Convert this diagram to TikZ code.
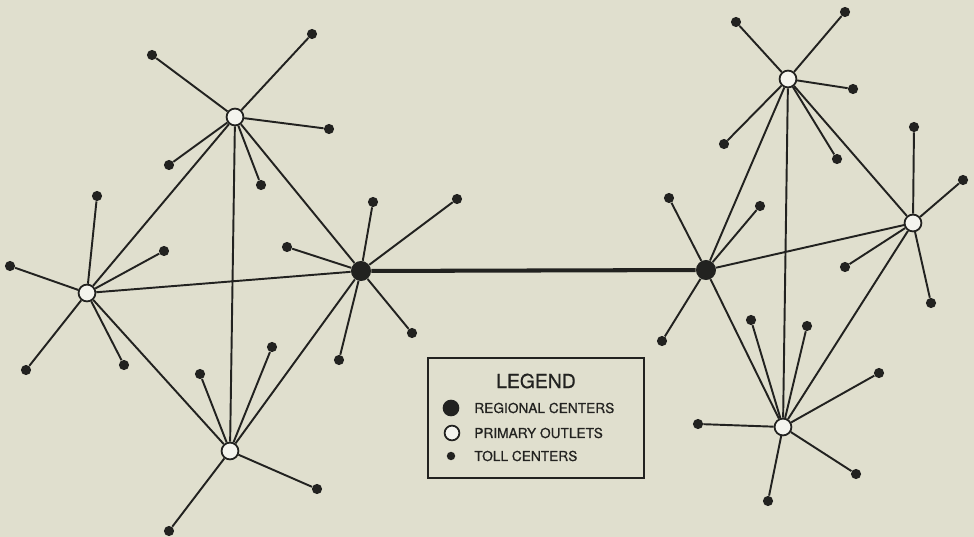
\documentclass[tikz,border=0pt]{standalone}
\usepackage{fontspec}
\setsansfont{TeX Gyre Heros}
\newfontfamily\legfont[FakeBold=0.7]{TeX Gyre Heros}
\usetikzlibrary{positioning}
\definecolor{paper}{RGB}{224,223,206}
\definecolor{ink}{RGB}{34,34,32}

\tikzset{
    toll/.style={circle, fill=ink, inner sep=0pt, minimum size=5.8pt},
    primary/.style={circle, draw=ink, fill=white!65!paper, line width=1pt, inner sep=0pt, minimum size=9.6pt},
    regional/.style={circle, fill=ink, inner sep=0pt, minimum size=11.4pt},
    spoke/.style={draw=ink, line width=1.1pt},
    trunk/.style={draw=ink, line width=2.3pt},
    legtext/.style={font=\legfont\fontsize{7.8}{9}\selectfont, text=ink, inner sep=0pt, anchor=west}
}

\begin{document}
\begin{tikzpicture}[x=0.02cm, y=-0.02cm]
    \fill[paper] (0,0) rectangle (974,537);
    \useasboundingbox (0,0) rectangle (974,537);

    % centres
    \node[regional] (r1) at (361,271) {};
    \node[regional] (r2) at (706,270) {};
    \node[primary] (p1) at (235,117) {};
    \node[primary] (p2) at (87,293) {};
    \node[primary] (p3) at (230,451) {};
    \node[primary] (p4) at (788,79) {};
    \node[primary] (p5) at (913,223) {};
    \node[primary] (p6) at (783,427) {};

    % toll centres
    \node[toll] (p1a) at (152,55) {};
    \node[toll] (p1b) at (312,34) {};
    \node[toll] (p1c) at (329,129) {};
    \node[toll] (p1d) at (169,165) {};
    \node[toll] (p1e) at (261,185) {};
    \node[toll] (p2a) at (97,196) {};
    \node[toll] (p2b) at (164,251) {};
    \node[toll] (p2c) at (10,266) {};
    \node[toll] (p2d) at (26,370) {};
    \node[toll] (p2e) at (124,365) {};
    \node[toll] (p3a) at (200,374) {};
    \node[toll] (p3b) at (272,347) {};
    \node[toll] (p3c) at (317,489) {};
    \node[toll] (p3d) at (169,531) {};
    \node[toll] (r1a) at (373,202) {};
    \node[toll] (r1b) at (457,199) {};
    \node[toll] (r1c) at (287,247) {};
    \node[toll] (r1d) at (412,333) {};
    \node[toll] (r1e) at (339,360) {};
    \node[toll] (p4a) at (736,22) {};
    \node[toll] (p4b) at (845,12) {};
    \node[toll] (p4c) at (853,89) {};
    \node[toll] (p4d) at (724,144) {};
    \node[toll] (p4e) at (837,159) {};
    \node[toll] (p5a) at (914,127) {};
    \node[toll] (p5b) at (963,180) {};
    \node[toll] (p5c) at (845,267) {};
    \node[toll] (p5d) at (931,303) {};
    \node[toll] (r2a) at (669,198) {};
    \node[toll] (r2b) at (760,206) {};
    \node[toll] (r2c) at (662,341) {};
    \node[toll] (p6a) at (751,320) {};
    \node[toll] (p6b) at (807,326) {};
    \node[toll] (p6c) at (879,373) {};
    \node[toll] (p6d) at (698,424) {};
    \node[toll] (p6e) at (856,474) {};
    \node[toll] (p6f) at (768,501) {};

    % spokes
    \draw[spoke] (p1a) -- (p1) -- (p1b) (p1c) -- (p1) -- (p1d) (p1) -- (p1e);
    \draw[spoke] (p2a) -- (p2) -- (p2b) (p2c) -- (p2) -- (p2d) (p2) -- (p2e);
    \draw[spoke] (p3a) -- (p3) -- (p3b) (p3c) -- (p3) -- (p3d);
    \draw[spoke] (r1a) -- (r1) -- (r1b) (r1c) -- (r1) -- (r1d) (r1) -- (r1e);
    \draw[spoke] (p4a) -- (p4) -- (p4b) (p4c) -- (p4) -- (p4d) (p4) -- (p4e);
    \draw[spoke] (p5a) -- (p5) -- (p5b) (p5c) -- (p5) -- (p5d);
    \draw[spoke] (r2a) -- (r2) -- (r2b) (r2) -- (r2c);
    \draw[spoke] (p6a) -- (p6) -- (p6b) (p6c) -- (p6) -- (p6d) (p6e) -- (p6) -- (p6f);

    % trunks
    \draw[spoke] (p1) -- (p2) -- (p3) -- (p1) -- (r1) -- (p2) (p3) -- (r1);
    \draw[spoke] (p4) -- (p5) -- (p6) -- (p4) -- (r2) -- (p5) (p6) -- (r2);
    \draw[trunk] (r1) -- (r2);

    % legend
    \draw[ink, line width=0.75pt] (428,358) rectangle (644,478);
    \node[font=\legfont\fontsize{11}{13}\selectfont, text=ink] (legtitle) at (536,381) {LEGEND};
    \node[regional, minimum size=9.5pt] (kr) at (451,408) {};
    \node[primary, minimum size=8.4pt] (kp) at (452,433) {};
    \node[toll, minimum size=4.8pt] (kt) at (451,456) {};
    \node[legtext] (lr) at (474,408) {REGIONAL CENTERS};
    \node[legtext] (lp) at (474,433) {PRIMARY OUTLETS};
    \node[legtext] (lt) at (474,456) {TOLL CENTERS};
\end{tikzpicture}
\end{document}
